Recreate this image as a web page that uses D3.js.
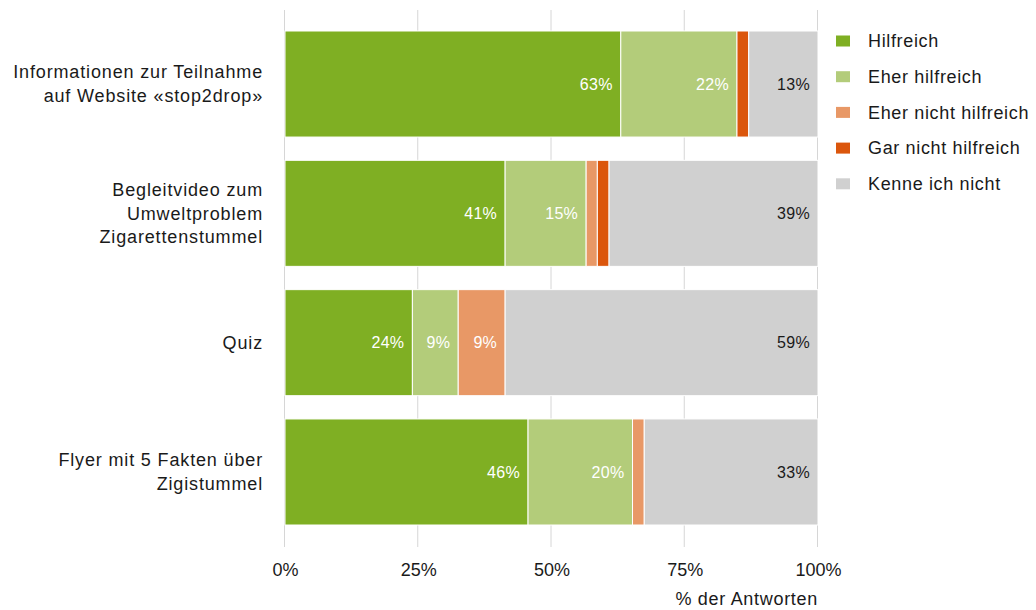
<!DOCTYPE html>
<html><head><meta charset="utf-8">
<script src="https://cdn.jsdelivr.net/npm/d3@7"></script>
<style>body{margin:0;background:#fff;} svg text{font-family:"Liberation Sans",Arial,sans-serif;}</style>
</head><body><svg id="c" width="1036" height="610"></svg>
<script>
const categories = [
  ["Informationen zur Teilnahme", "auf Website «stop2drop»"],
  ["Begleitvideo zum", "Umweltproblem", "Zigarettenstummel"],
  ["Quiz"],
  ["Flyer mit 5 Fakten über", "Zigistummel"]
];
const seriesNames = ["Hilfreich", "Eher hilfreich", "Eher nicht hilfreich", "Gar nicht hilfreich", "Kenne ich nicht"];
const seriesColors = ["#7faf23", "#b3cc7a", "#e89866", "#db560c", "#d0d0d0"];
const hilfreich = [63.0, 41.3, 23.9, 45.6];
const eherHilfreich = [21.8, 15.2, 8.6, 19.6];
const eherNicht = [0, 2.1, 8.8, 2.2];
const garNicht = [2.2, 2.2, 0, 0];
const kenneNicht = [13.0, 39.2, 58.7, 32.6];
const tickValues = [0, 25, 50, 75, 100];
const axisTitle = "% der Antworten";

const series = [hilfreich, eherHilfreich, eherNicht, garNicht, kenneNicht];
const svg = d3.select("#c");
const x = d3.scaleLinear().domain([0, 100]).range([285, 818]);
const y = d3.scaleBand().domain(d3.range(categories.length)).range([31, 525]).paddingInner(0.18).paddingOuter(0);

// gridlines
svg.append("g").selectAll("line").data(tickValues).join("line")
  .attr("x1", d => x(d) - 0.5).attr("x2", d => x(d) - 0.5).attr("y1", 10).attr("y2", 547)
  .attr("stroke", "#d6d6d6").attr("stroke-width", 1);

// stacked data
const rows = categories.map((c, i) => {
  let acc = 0;
  return series.map((s, k) => { const v = s[i]; const r = {i, k, x0: acc, x1: acc + v, v}; acc += v; return r; });
});
const segs = rows.flat();

svg.append("g").selectAll("rect").data(segs.filter(d => d.v > 0)).join("rect")
  .attr("x", d => x(d.x0)).attr("width", d => x(d.x1) - x(d.x0))
  .attr("y", d => y(d.i)).attr("height", y.bandwidth())
  .attr("fill", d => seriesColors[d.k]).attr("stroke", "#fff").attr("stroke-width", 1);

svg.append("g").selectAll("text").data(segs.filter(d => d.v >= 5)).join("text")
  .attr("x", d => x(d.x1) - 8).attr("y", d => y(d.i) + y.bandwidth() / 2)
  .attr("dy", "0.35em").attr("text-anchor", "end")
  .attr("font-size", 16).attr("letter-spacing", 0.3).attr("fill", d => d.k === 4 ? "#1a1a1a" : "#fff")
  .text(d => Math.round(d.v) + "%");

// category labels
const cl = svg.append("g");
categories.forEach((lines, i) => {
  const cy = y(i) + y.bandwidth() / 2;
  const lh = 23.7;
  lines.forEach((t, j) => {
    cl.append("text").attr("x", 263).attr("y", cy + (j - (lines.length - 1) / 2) * lh)
      .attr("dy", "0.35em").attr("text-anchor", "end").attr("font-size", 18).attr("letter-spacing", 0.85)
      .attr("fill", "#1a1a1a").text(t);
  });
});

// x axis
const ax = svg.append("g").attr("transform", "translate(0,559)")
  .call(d3.axisBottom(x).tickValues(tickValues).tickFormat(d => d + "%").tickSize(0).tickPadding(4));
ax.select(".domain").remove();
ax.selectAll("text").attr("font-size", 18).attr("fill", "#1a1a1a").attr("font-family", null);

svg.append("text").attr("x", 818).attr("y", 599).attr("dy", "0.35em").attr("text-anchor", "end")
  .attr("font-size", 18).attr("letter-spacing", 0.7).attr("fill", "#1a1a1a").text(axisTitle);

// legend
const lg = svg.append("g").selectAll("g").data(seriesNames).join("g")
  .attr("transform", (d, i) => `translate(836,${41 + i * 35.7})`);
lg.append("rect").attr("x", 0).attr("y", -5.5).attr("width", 14).attr("height", 11).attr("fill", (d, i) => seriesColors[i]);
lg.append("text").attr("x", 32).attr("dy", "0.35em").attr("font-size", 18).attr("letter-spacing", 0.65)
  .attr("fill", "#1a1a1a").text(d => d);
</script></body></html>
